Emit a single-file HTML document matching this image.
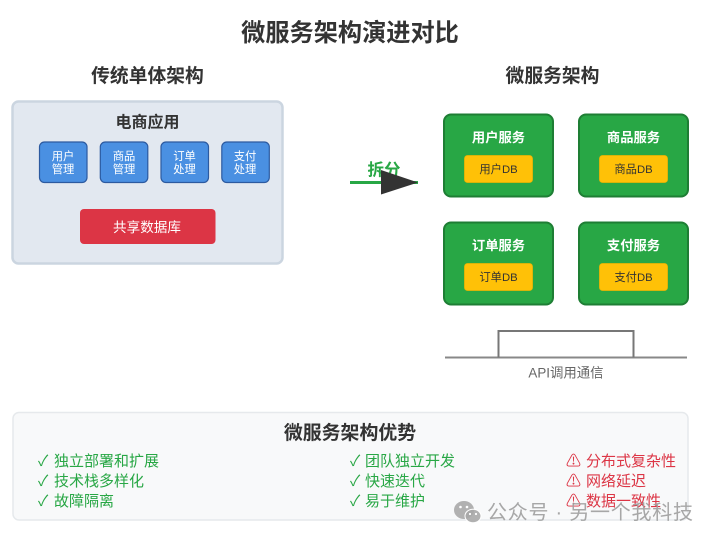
<!DOCTYPE html>
<html lang="zh">
<head>
<meta charset="utf-8">
<style>
html,body{margin:0;padding:0;background:#fff;width:717px;height:541px;overflow:hidden}
svg{display:block}
text{font-family:"Liberation Sans","Noto Sans CJK SC",sans-serif}
.m{text-anchor:middle}
.b{font-weight:700}
</style>
</head>
<body>
<svg width="717" height="541" viewBox="0 0 717 541" xmlns="http://www.w3.org/2000/svg">
<rect width="717" height="541" fill="#fff"/>
<text x="350" y="41" class="m b" font-size="24.200" fill="#333">微服务架构演进对比</text>
<text x="147.500" y="82" class="m b" font-size="18.800" fill="#333">传统单体架构</text>
<text x="552.500" y="82" class="m b" font-size="18.800" fill="#333">微服务架构</text>

<rect x="12.500" y="101.500" width="270" height="162" rx="6" fill="#e2e8f0" stroke="#cbd5e0" stroke-width="2.500"/>
<text x="147.500" y="127.500" class="m b" font-size="16" fill="#333">电商应用</text>

<g fill="#4a90e2" stroke="#2c5aa0" stroke-width="1.200">
<rect x="39.500" y="142" width="47.500" height="40.500" rx="5"/>
<rect x="100.300" y="142" width="47.500" height="40.500" rx="5"/>
<rect x="161" y="142" width="47.500" height="40.500" rx="5"/>
<rect x="221.800" y="142" width="47.500" height="40.500" rx="5"/>
</g>
<g font-size="11.300" fill="#fff" text-anchor="middle">
<text x="63" y="160">用户</text><text x="63" y="173">管理</text>
<text x="124" y="160">商品</text><text x="124" y="173">管理</text>
<text x="184.500" y="160">订单</text><text x="184.500" y="173">处理</text>
<text x="245" y="160">支付</text><text x="245" y="173">处理</text>
</g>
<rect x="80" y="209" width="135.500" height="35" rx="4" fill="#dc3545"/>
<text x="147" y="232" class="m" font-size="13.600" fill="#fff">共享数据库</text>

<line x1="350" y1="182.500" x2="418" y2="182.500" stroke="#28a745" stroke-width="3"/>
<text x="384" y="175.500" class="m b" font-size="16.500" fill="#28a745">拆分</text>
<polygon points="381,170 418,182.500 381,194.500" fill="#333"/>

<g fill="#28a745" stroke="#1e7e34" stroke-width="2">
<rect x="444" y="114.500" width="109" height="82" rx="7"/>
<rect x="579" y="114.500" width="109" height="82" rx="7"/>
<rect x="444" y="222.500" width="109" height="82" rx="7"/>
<rect x="579" y="222.500" width="109" height="82" rx="7"/>
</g>
<g font-size="13.300" fill="#fff" text-anchor="middle" font-weight="700">
<text x="498.500" y="142">用户服务</text>
<text x="633.500" y="142">商品服务</text>
<text x="498.500" y="250">订单服务</text>
<text x="633.500" y="250">支付服务</text>
</g>
<g fill="#ffc107" stroke="#f0b400" stroke-width="0.800">
<rect x="464.500" y="155.500" width="68" height="27" rx="3"/>
<rect x="599.500" y="155.500" width="68" height="27" rx="3"/>
<rect x="464.500" y="263.500" width="68" height="27" rx="3"/>
<rect x="599.500" y="263.500" width="68" height="27" rx="3"/>
</g>
<g font-size="11.300" fill="#333" text-anchor="middle">
<text x="498.500" y="173">用户DB</text>
<text x="633.500" y="173">商品DB</text>
<text x="498.500" y="281">订单DB</text>
<text x="633.500" y="281">支付DB</text>
</g>

<line x1="445" y1="357.500" x2="687" y2="357.500" stroke="#888" stroke-width="2"/>
<path d="M498.500 357.500V331H633.500V357.500" fill="none" stroke="#777" stroke-width="2"/>
<text x="566" y="377.500" class="m" font-size="13.400" fill="#666">API调用通信</text>

<rect x="13" y="412.500" width="675" height="107.500" rx="6" fill="#f8f9fa" stroke="#e6e9ec" stroke-width="1.500"/>
<text x="350" y="439" class="m b" font-size="18.900" fill="#333">微服务架构优势</text>

<g font-size="15" fill="#28a745">
<text x="38" y="466">✓</text><text x="54" y="466">独立部署和扩展</text>
<text x="38" y="486">✓</text><text x="54" y="486">技术栈多样化</text>
<text x="38" y="506">✓</text><text x="54" y="506">故障隔离</text>
<text x="350" y="466">✓</text><text x="365" y="466">团队独立开发</text>
<text x="350" y="486">✓</text><text x="365" y="486">快速迭代</text>
<text x="350" y="506">✓</text><text x="365" y="506">易于维护</text>
</g>
<g font-size="15" fill="#dc3545">
<text x="566" y="466">⚠</text><text x="586" y="466">分布式复杂性</text>
<text x="566" y="486">⚠</text><text x="586" y="486">网络延迟</text>
<text x="566" y="506">⚠</text><text x="586" y="506">数据一致性</text>
</g>

<g fill="#a9a9a9" fill-opacity="0.9">
<ellipse cx="464" cy="510" rx="10" ry="9"/>
<ellipse cx="473" cy="516" rx="8" ry="6.800" stroke="#fff" stroke-width="1"/>
</g>
<g fill="#fff">
<circle cx="460.500" cy="507" r="1.300"/><circle cx="467" cy="507" r="1.300"/>
<circle cx="470" cy="514" r="1.100"/><circle cx="476" cy="514" r="1.100"/>
</g>
<text x="487" y="519" font-size="20" fill="#a0a0a0" fill-opacity="0.92" letter-spacing="0.750">公众号 · 另一个我科技</text>
</svg>
</body>
</html>
